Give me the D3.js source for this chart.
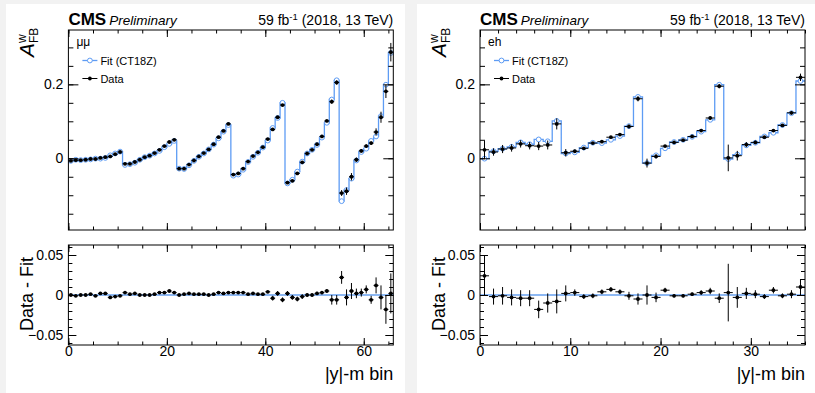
<!DOCTYPE html>
<html>
<head>
<meta charset="utf-8">
<script src="https://cdn.jsdelivr.net/npm/d3@7"></script>
<style>
  body { margin: 0; background: #f2f2f2; }
  svg { display: block; font-family: "Liberation Sans", Arial, sans-serif; }
</style>
</head>
<body>
<svg id="chart" width="815" height="393"></svg>
<script>
// ---- values ----
// mu mu channel: 6 mass bins x 11 |y| bins
const dataMuMu = [
  -0.007, -0.005, -0.005, -0.004, -0.002, -0.002, 0.001, 0.003, 0.005, 0.011, 0.017,
  -0.015, -0.015, -0.010, -0.004, 0.003, 0.007, 0.014, 0.023, 0.033, 0.044, 0.050,
  -0.028, -0.028, -0.017, -0.006, 0.005, 0.014, 0.024, 0.038, 0.057, 0.074, 0.093,
  -0.044, -0.041, -0.028, -0.009, 0.006, 0.016, 0.030, 0.052, 0.078, 0.111, 0.144,
  -0.066, -0.061, -0.041, -0.011, 0.013, 0.023, 0.038, 0.059, 0.101, 0.153, 0.205,
  -0.094, -0.089, -0.050, -0.004, 0.020, 0.033, 0.041, 0.071, 0.111, 0.181, 0.287
];
const fitMuMu = [
  -0.007, -0.004, -0.005, -0.004, -0.003, -0.001, -0.001, 0.001, 0.008, 0.013, 0.018,
  -0.018, -0.016, -0.012, -0.004, 0.003, 0.007, 0.013, 0.020, 0.030, 0.039, 0.047,
  -0.028, -0.029, -0.019, -0.007, 0.004, 0.013, 0.024, 0.037, 0.054, 0.072, 0.090,
  -0.047, -0.044, -0.031, -0.010, 0.004, 0.015, 0.029, 0.048, 0.082, 0.109, 0.150,
  -0.068, -0.058, -0.036, -0.009, 0.013, 0.023, 0.036, 0.056, 0.096, 0.159, 0.211,
  -0.116, -0.086, -0.055, -0.006, 0.017, 0.026, 0.047, 0.059, 0.114, 0.199, 0.285
];
const errMuMu = [
  0.001, 0.001, 0.001, 0.001, 0.001, 0.001, 0.001, 0.001, 0.001, 0.001, 0.001,
  0.001, 0.001, 0.001, 0.001, 0.001, 0.001, 0.001, 0.001, 0.001, 0.001, 0.001,
  0.001, 0.001, 0.001, 0.001, 0.001, 0.001, 0.001, 0.001, 0.001, 0.001, 0.001,
  0.001, 0.001, 0.001, 0.001, 0.001, 0.001, 0.001, 0.001, 0.003, 0.003, 0.003,
  0.003, 0.003, 0.003, 0.003, 0.002, 0.002, 0.002, 0.002, 0.002, 0.006, 0.006,
  0.008, 0.010, 0.010, 0.006, 0.005, 0.005, 0.005, 0.010, 0.015, 0.018, 0.025
];

// e e channel: 4 mass bins x 9 |y| bins
const dataEE = [
  0.023, 0.017, 0.025, 0.028, 0.039, 0.034, 0.033, 0.036, 0.093,
  0.015, 0.019, 0.027, 0.041, 0.045, 0.057, 0.064, 0.086, 0.161,
  -0.013, 0.005, 0.033, 0.043, 0.049, 0.059, 0.075, 0.109, 0.195,
  0.001, 0.007, 0.037, 0.043, 0.057, 0.075, 0.089, 0.123, 0.219
];
const fitEE = [
  -0.001, 0.019, 0.026, 0.031, 0.043, 0.038, 0.051, 0.046, 0.101,
  0.013, 0.016, 0.029, 0.042, 0.041, 0.050, 0.060, 0.087, 0.166,
  -0.013, 0.008, 0.027, 0.044, 0.050, 0.058, 0.072, 0.104, 0.199,
  -0.002, 0.010, 0.035, 0.042, 0.059, 0.069, 0.090, 0.122, 0.209
];
const errEE = [
  0.025, 0.010, 0.011, 0.010, 0.010, 0.010, 0.011, 0.012, 0.015,
  0.010, 0.004, 0.003, 0.003, 0.003, 0.003, 0.003, 0.005, 0.007,
  0.012, 0.006, 0.003, 0.002, 0.002, 0.002, 0.003, 0.004, 0.006,
  0.036, 0.013, 0.007, 0.005, 0.003, 0.004, 0.003, 0.005, 0.010
];

// tick labels
const yTicksMain = [0, 0.2];
const yTicksRatio = [-0.05, 0, 0.05];
const xTicksMuMu = [0, 20, 40, 60];
const xTicksEE = [0, 10, 20, 30];

const FIT_COLOR = "#5e9cf4";
const ZERO_COLOR = "#8db8f3";
const fmt = d3.format("");

const svg = d3.select("#chart");
svg.append("rect").attr("width", 815).attr("height", 393).attr("fill", "#f2f2f2");

function axes(g, x, y, xMajor, xMinor, yMajor, yMinor, tx, ty, showX) {
  const [x0, x1] = x.range();
  const [yb, yt] = y.range();
  const add = (axis, tr) => {
    const a = g.append("g").attr("transform", tr).call(axis);
    a.select(".domain").remove();
    a.selectAll("line").attr("stroke", "#000");
    a.selectAll("text").attr("fill", "#000").style("font-size", "14px").attr("font-family", null);
    return a;
  };
  add(d3.axisLeft(y).tickValues(yMajor).tickSize(-ty).tickPadding(5).tickFormat(fmt), `translate(${x0},0)`);
  add(d3.axisLeft(y).tickValues(yMinor).tickSize(-ty / 2).tickFormat(""), `translate(${x0},0)`);
  add(d3.axisRight(y).tickValues(yMajor).tickSize(-ty).tickFormat(""), `translate(${x1},0)`);
  add(d3.axisRight(y).tickValues(yMinor).tickSize(-ty / 2).tickFormat(""), `translate(${x1},0)`);
  add(d3.axisBottom(x).tickValues(xMajor).tickSize(-tx).tickPadding(1).tickFormat(showX ? fmt : ""), `translate(0,${yb})`);
  add(d3.axisBottom(x).tickValues(xMinor).tickSize(-tx / 2).tickFormat(""), `translate(0,${yb})`);
  add(d3.axisTop(x).tickValues(xMajor).tickSize(-tx).tickFormat(""), `translate(0,${yt})`);
  add(d3.axisTop(x).tickValues(xMinor).tickSize(-tx / 2).tickFormat(""), `translate(0,${yt})`);
  g.append("rect").attr("x", x0).attr("y", yt).attr("width", x1 - x0).attr("height", yb - yt)
    .attr("fill", "none").attr("stroke", "#000").attr("stroke-width", 1);
}

function points(g, x, y, vals, errs) {
  const pts = g.append("g").selectAll("g").data(vals).enter().append("g");
  pts.append("line")
    .attr("x1", (d, i) => x(i)).attr("x2", (d, i) => x(i + 1))
    .attr("y1", d => y(d)).attr("y2", d => y(d))
    .attr("stroke", "#000").attr("stroke-width", 1);
  pts.append("line")
    .attr("x1", (d, i) => x(i + 0.5)).attr("x2", (d, i) => x(i + 0.5))
    .attr("y1", (d, i) => y(d - errs[i])).attr("y2", (d, i) => y(d + errs[i]))
    .attr("stroke", "#000").attr("stroke-width", 1);
  pts.append("circle")
    .attr("cx", (d, i) => x(i + 0.5)).attr("cy", d => y(d))
    .attr("r", 1.9).attr("fill", "#000");
}

function drawPanel(p) {
  const n = p.data.length;
  const g = svg.append("g");
  g.append("rect").attr("x", p.bgX).attr("y", 4).attr("width", p.bgW).attr("height", 389).attr("fill", "#fff");

  const x = d3.scaleLinear().domain([0, n]).range([p.x0, p.x1]);
  const y = d3.scaleLinear().domain([-0.194, 0.347]).range([230, 30]);
  const yr = d3.scaleLinear().domain([-0.0625, 0.0625]).range([345, 245]);

  // ---- main pad ----
  const steps = p.fit.map((v, i) => [i, v]).concat([[n, p.fit[n - 1]]]);
  g.append("path")
    .attr("d", d3.line().x(d => x(d[0])).y(d => y(d[1])).curve(d3.curveStepAfter)(steps))
    .attr("fill", "none").attr("stroke", FIT_COLOR).attr("stroke-width", 1.3);
  g.append("g").selectAll("circle").data(p.fit).enter().append("circle")
    .attr("cx", (d, i) => x(i + 0.5)).attr("cy", d => y(d))
    .attr("r", 2.4).attr("fill", "#fff").attr("stroke", FIT_COLOR).attr("stroke-width", 1);
  points(g, x, y, p.data, p.err);

  axes(g, x, y, p.xTicks, d3.range(0, n + 0.01, p.xMinor), yTicksMain,
       d3.range(-0.15, 0.31, 0.05), 7, 10, false);

  // legend
  g.append("text").attr("x", p.x0 + 8).attr("y", 46).style("font-size", "12px").text(p.channel);
  g.append("line").attr("x1", p.x0 + 14).attr("x2", p.x0 + 29).attr("y1", 60.5).attr("y2", 60.5)
    .attr("stroke", FIT_COLOR).attr("stroke-width", 1.3);
  g.append("circle").attr("cx", p.x0 + 21.5).attr("cy", 60.5).attr("r", 2.4)
    .attr("fill", "#fff").attr("stroke", FIT_COLOR);
  g.append("text").attr("x", p.x0 + 32).attr("y", 64.5).style("font-size", "11px").text("Fit (CT18Z)");
  g.append("line").attr("x1", p.x0 + 14).attr("x2", p.x0 + 29).attr("y1", 78.5).attr("y2", 78.5)
    .attr("stroke", "#000");
  g.append("circle").attr("cx", p.x0 + 21.5).attr("cy", 78.5).attr("r", 1.9).attr("fill", "#000");
  g.append("text").attr("x", p.x0 + 32).attr("y", 82.5).style("font-size", "11px").text("Data");

  // titles
  const t = g.append("text").attr("x", p.x0).attr("y", 25);
  t.append("tspan").attr("font-weight", "bold").style("font-size", "17px").text("CMS");
  t.append("tspan").attr("dx", 3).attr("font-style", "italic").style("font-size", "13.5px").text("Preliminary");
  const l = g.append("text").attr("x", p.x1).attr("y", 25).attr("text-anchor", "end").style("font-size", "14px");
  l.append("tspan").text("59 fb");
  l.append("tspan").attr("dy", -5).style("font-size", "9.5px").text("-1");
  l.append("tspan").attr("dy", 5).text(" (2018, 13 TeV)");

  const yl = g.append("text").attr("transform", `translate(${p.x0 - 34.5},57) rotate(-90)`);
  yl.append("tspan").attr("font-style", "italic").style("font-size", "21px").text("A");
  yl.append("tspan").attr("dy", -8).style("font-size", "12px").text("w");
  yl.append("tspan").attr("dx", -8.7).attr("dy", 12).style("font-size", "12px").text("FB");

  // ---- ratio pad ----
  g.append("line").attr("x1", p.x0).attr("x2", p.x1).attr("y1", yr(0)).attr("y2", yr(0))
    .attr("stroke", ZERO_COLOR).attr("stroke-width", 2);
  points(g, x, yr, p.data.map((d, i) => d - p.fit[i]), p.err);
  axes(g, x, yr, p.xTicks, d3.range(0, n + 0.01, p.xMinor), yTicksRatio,
       d3.range(-0.06, 0.061, 0.01), 7, 8, true);

  g.append("text").attr("transform", `translate(${p.x0 - 35},257) rotate(-90)`)
    .attr("text-anchor", "end").style("font-size", "18px").text("Data - Fit");
  g.append("text").attr("x", p.x1).attr("y", 380).attr("text-anchor", "end")
    .style("font-size", "18px").text("|y|-m bin");
}

drawPanel({ data: dataMuMu, fit: fitMuMu, err: errMuMu, channel: "μμ",
  x0: 68.4, x1: 393.3, bgX: 6, bgW: 399, xTicks: xTicksMuMu, xMinor: 5 });
drawPanel({ data: dataEE, fit: fitEE, err: errEE, channel: "eh",
  x0: 480, x1: 805, bgX: 417, bgW: 398, xTicks: xTicksEE, xMinor: 2 });
</script>
</body>
</html>
